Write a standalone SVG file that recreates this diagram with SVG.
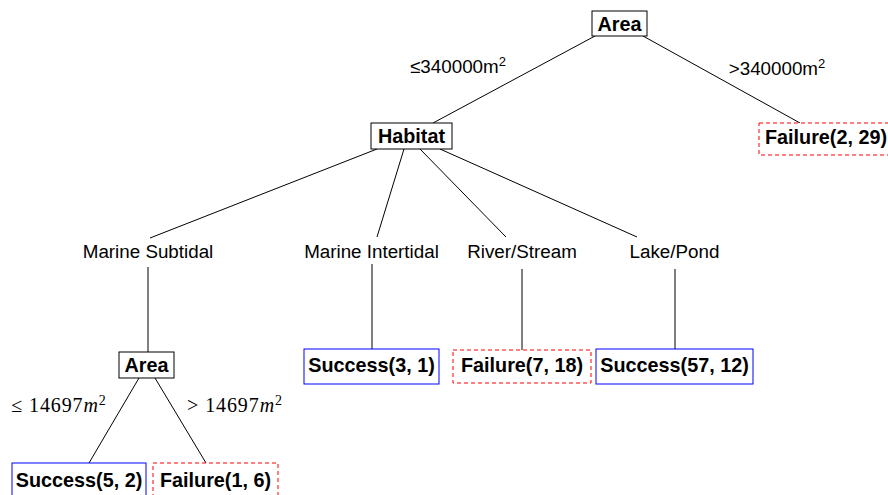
<svg xmlns="http://www.w3.org/2000/svg" width="888" height="495" viewBox="0 0 888 495">
<style>
.bg{fill:#fff}
.dec{fill:#fff;stroke:#000;stroke-width:1}
.suc{fill:#fff;stroke:#0000ff;stroke-width:1}
.fail{fill:#fff;stroke:#ff0000;stroke-width:1;stroke-dasharray:4 3}
.b{font-family:"Liberation Sans",Arial,sans-serif;font-weight:bold;font-size:19.8px;fill:#000;text-anchor:middle}
.r{font-family:"Liberation Sans",Arial,sans-serif;font-size:18.8px;fill:#000;text-anchor:middle}
.m{font-family:"Liberation Serif","Times New Roman",serif;font-size:20px;letter-spacing:0.9px;fill:#000;text-anchor:middle}
.e{stroke:#000;stroke-width:1;fill:none}
</style>
<rect class="bg" x="0" y="0" width="888" height="495"/>
<g id="connectors">
<line class="e" x1="595" y1="36" x2="433" y2="123"/>
<line class="e" x1="643" y1="36" x2="800" y2="123"/>
<line class="e" x1="377" y1="149" x2="150" y2="238"/>
<line class="e" x1="404" y1="149" x2="377" y2="237"/>
<line class="e" x1="420" y1="149" x2="506" y2="237"/>
<line class="e" x1="440" y1="149" x2="637" y2="237"/>
<line class="e" x1="148" y1="267" x2="148" y2="352"/>
<line class="e" x1="372" y1="264" x2="372" y2="349"/>
<line class="e" x1="522" y1="269" x2="522" y2="350"/>
<line class="e" x1="675" y1="269" x2="675" y2="349"/>
<line class="e" x1="139" y1="378" x2="89" y2="463"/>
<line class="e" x1="155" y1="378" x2="206" y2="463"/>
</g>
<g id="edge-labels">
<text class="r" x="458" y="73">≤340000m<tspan dy="-7" font-size="13">2</tspan></text>
<text class="r" x="777" y="75">&gt;340000m<tspan dy="-7" font-size="13">2</tspan></text>
<text class="m" x="59" y="412">≤ 14697<tspan font-style="italic">m</tspan><tspan dy="-7" font-size="14">2</tspan></text>
<text class="m" x="235" y="412">&gt; 14697<tspan font-style="italic">m</tspan><tspan dy="-7" font-size="14">2</tspan></text>
</g>
<g id="n-area-root"><rect class="dec" x="592" y="11" width="55" height="25"/><text class="b" x="619.5" y="31">Area</text></g>
<g id="n-fail-2-29"><rect class="fail" x="759" y="123" width="134" height="32"/><text class="b" x="826" y="144">Failure(2, 29)</text></g>
<g id="n-habitat"><rect class="dec" x="371" y="123" width="81" height="26"/><text class="b" x="411.5" y="143">Habitat</text></g>
<g id="n-marine-subtidal"><text class="r" x="148" y="258">Marine Subtidal</text></g>
<g id="n-marine-intertidal"><text class="r" x="371.5" y="258">Marine Intertidal</text></g>
<g id="n-river-stream"><text class="r" x="522" y="258">River/Stream</text></g>
<g id="n-lake-pond"><text class="r" x="674.5" y="258">Lake/Pond</text></g>
<g id="n-area-2"><rect class="dec" x="119" y="352" width="55" height="26"/><text class="b" x="146.5" y="372">Area</text></g>
<g id="n-success-3-1"><rect class="suc" x="304" y="349" width="135" height="35"/><text class="b" x="371.5" y="372">Success(3, 1)</text></g>
<g id="n-fail-7-18"><rect class="fail" x="453" y="350" width="138" height="33"/><text class="b" x="522" y="372">Failure(7, 18)</text></g>
<g id="n-success-57-12"><rect class="suc" x="596" y="349" width="157" height="35"/><text class="b" x="674.5" y="372">Success(57, 12)</text></g>
<g id="n-success-5-2"><rect class="suc" x="12" y="463" width="134" height="36"/><text class="b" x="79" y="487">Success(5, 2)</text></g>
<g id="n-fail-1-6"><rect class="fail" x="153" y="463" width="125" height="36"/><text class="b" x="215.5" y="487">Failure(1, 6)</text></g>
</svg>
